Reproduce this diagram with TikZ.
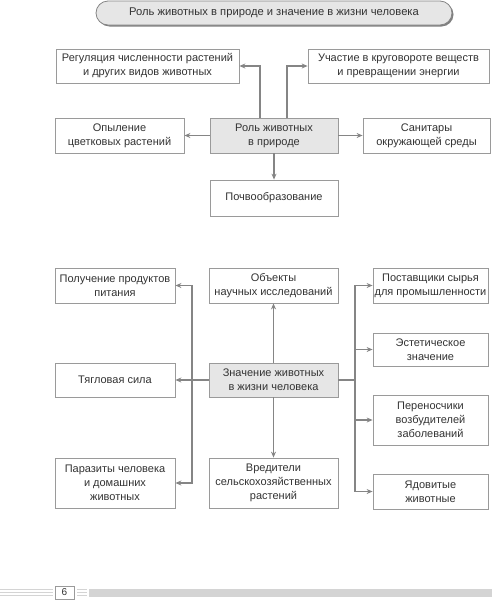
\documentclass[tikz,border=0pt]{standalone}
\usepackage{fontspec}
\setmainfont{Liberation Sans}
\usetikzlibrary{arrows.meta}
\definecolor{bordc}{HTML}{9A9A9A}
\definecolor{arrc}{HTML}{858585}
\definecolor{txtc}{HTML}{333333}
\definecolor{fillc}{HTML}{E6E6E6}
\definecolor{barc}{HTML}{D4D4D4}
\begin{document}
\begin{tikzpicture}[x=1pt,y=-1pt,
 box/.style={draw=bordc, line width=0.8pt, fill=white, text=txtc, align=center,
   font=\fontsize{11}{14}\selectfont, inner sep=0pt},
 cbox/.style={box, fill=fillc},
 arr/.style={draw=arrc, line width=1.3pt, -{Stealth[length=6pt,width=5pt]}},
 ln/.style={draw=arrc, line width=1.3pt},
 thin/.style={draw=barc, line width=0.6pt}]
\useasboundingbox (0,0) rectangle (493,600);
% title
\fill[black!50, rounded corners=12pt] (97.5,2.5) rectangle (453.5,26.5);
\node[draw=arrc, line width=0.8pt, fill=fillc, rounded corners=12pt, text=txtc,
  minimum width=356pt, minimum height=24pt, inner sep=0pt,
  font=\fontsize{11.2}{13}\selectfont] (title) at (274,13)
  {Роль животных в природе и значение в жизни человека};
% part 1
\node[box, minimum width=183pt, minimum height=34pt] (reg) at (147.5,66)
  {Регуляция численности растений\\и других видов животных};
\node[box, minimum width=181pt, minimum height=34pt] (uch) at (398.5,66)
  {Участие в круговороте веществ\\и превращении энергии};
\node[box, minimum width=129pt, minimum height=35pt] (opy) at (119.5,135.5)
  {Опыление\\цветковых растений};
\node[cbox, minimum width=128pt, minimum height=35pt] (rol) at (274,135.5)
  {Роль животных\\в природе};
\node[box, minimum width=127pt, minimum height=35pt] (san) at (426.5,135.5)
  {Санитары\\окружающей среды};
\node[box, minimum width=128pt, minimum height=36pt] (poch) at (274,198)
  {Почвообразование};
\coordinate (r1) at (260,118);
\coordinate (r2) at (287,118);
\draw[arr] (r1) |- (reg.east);
\draw[arr] (r2) |- (uch.west);
\draw[arr] (rol.west) -- (opy.east);
\draw[arr] (rol.east) -- (san.west);
\draw[arr] (rol.south) -- (poch.north);
% part 2
\node[box, minimum width=120pt, minimum height=35pt] (pol) at (115,285.5)
  {Получение продуктов\\питания};
\node[box, minimum width=129pt, minimum height=35pt] (obj) at (273.5,285.5)
  {Объекты\\научных исследований};
\node[box, minimum width=115pt, minimum height=35pt] (pos) at (430.5,285.5)
  {Поставщики сырья\\для промышленности};
\node[box, minimum width=115pt, minimum height=33pt] (est) at (430.5,349.5)
  {Эстетическое\\значение};
\node[box, minimum width=115pt, minimum height=50pt] (per) at (430.5,420)
  {Переносчики\\возбудителей\\заболеваний};
\node[box, minimum width=115pt, minimum height=35pt] (yad) at (430.5,491.5)
  {Ядовитые\\животные};
\node[cbox, minimum width=129pt, minimum height=34pt] (zna) at (273.5,380)
  {Значение животных\\в жизни человека};
\node[box, minimum width=120pt, minimum height=34pt] (tya) at (115,380)
  {Тягловая сила};
\node[box, minimum width=120pt, minimum height=50pt] (par) at (115,483)
  {Паразиты человека\\и домашних\\животных};
\node[box, minimum width=129pt, minimum height=50pt] (vre) at (273.5,483)
  {Вредители\\сельскохозяйственных\\растений};
\coordinate (lb) at (192,380);
\coordinate (rb) at (355,380);
\draw[arr] (zna.west) -- (tya.east);
\draw[arr] (lb) |- (pol.east);
\draw[arr] (lb) |- (par.east);
\draw[arr] (zna.north) -- (obj.south);
\draw[arr] (zna.south) -- (vre.north);
\draw[ln] (zna.east) -- (rb);
\draw[arr] (rb) |- (pos.west);
\draw[arr] (rb) |- (est.west);
\draw[arr] (rb) |- (per.west);
\draw[arr] (rb) |- (yad.west);
% footer
\foreach \yy in {589,592,595} {
  \draw[thin] (0,\yy) -- (53,\yy);
  \draw[thin] (77,\yy) -- (87,\yy);
}
\fill[barc] (89,589) rectangle (492,597);
\node[draw=bordc, line width=0.6pt, fill=white, text=txtc, minimum width=19pt,
  minimum height=13pt, inner sep=0pt, font=\fontsize{10}{12}\selectfont] (pg) at (64.5,592.5) {6};
\end{tikzpicture}
\end{document}
